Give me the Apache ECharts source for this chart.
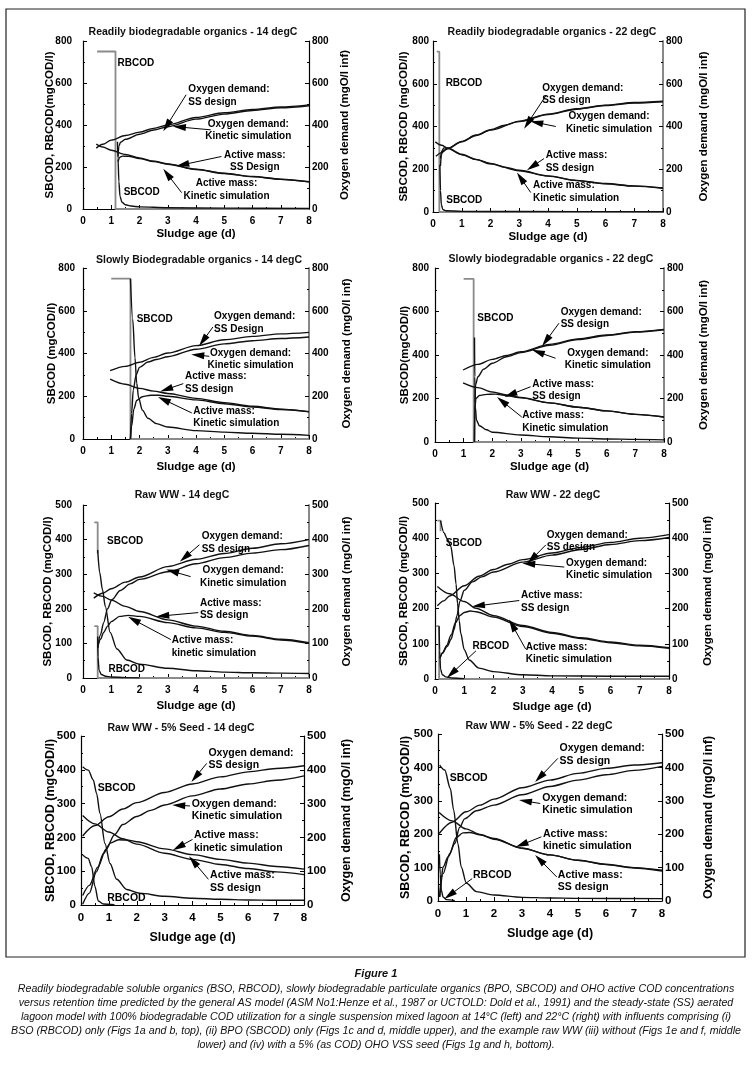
<!DOCTYPE html>
<html><head><meta charset="utf-8">
<script src="https://cdn.jsdelivr.net/npm/echarts@6/dist/echarts.min.js"></script>
<style>html,body{margin:0;padding:0;background:#fff}#c{width:752px;height:1069px}</style>
</head><body><div id="c"></div>
<script>
// ---------------- DATA ----------------
const xTicks = [0,1,2,3,4,5,6,7,8];
const titles = [
 'Readily biodegradable organics - 14 degC','Readily biodegradable organics - 22 degC',
 'Slowly Biodegradable organics - 14 degC','Slowly biodegradable organics - 22 degC',
 'Raw WW - 14 degC','Raw WW - 22 degC','Raw WW - 5% Seed - 14 degC','Raw WW - 5% Seed - 22 degC'];
const leftNames = ['SBCOD, RBCOD(mgCOD/l)','SBCOD, RBCOD (mgCOD/l)','SBCOD (mgCOD/l)','SBCOD(mgCOD/l)',
 'SBCOD, RBCOD (mgCOD/l)','SBCOD, RBCOD (mgCOD/l)','SBCOD, RBCOD (mgCOD/l)','SBCOD, RBCOD (mgCOD/l)'];
const rightName = 'Oxygen demand (mgO/l inf)';
const xName = 'Sludge age (d)';
const yMax = [800,800,800,800,500,500,500,500];
const yStep = [200,200,200,200,100,100,100,100];

// (a) readily biodegradable 14 degC
const a_o2SS  = [[0.47,290],[0.7,308],[1,328],[1.5,350],[2,366],[2.5,384],[3,400],[4,436],[5,458],[6,474],[7,486],[8,496]];
const a_o2Kin = [[1.24,250],[1.27,300],[1.33,318],[1.5,332],[2,356],[2.5,376],[3,392],[4,428],[5,452],[6,469],[7,482],[8,492]];
const a_amSS  = [[0.47,309],[0.7,295],[1,280],[1.5,260],[2,243],[2.5,228],[3,215],[4,190],[5,170],[6,155],[7,142],[8,130]];
const a_amKin = [[1.24,225],[1.3,246],[1.4,252],[1.6,251],[2,240],[2.5,226],[3,213],[4,188],[5,169],[6,154],[7,141],[8,129]];
const a_sub   = [[1.22,320],[1.24,240],[1.27,130],[1.31,60],[1.38,32],[1.5,20],[1.7,14],[2,10],[3,6],[5,4],[8,3]];
const a_grey  = [[0.5,750],[1.15,750],[1.15,0],[8,0]];
// (b) readily biodegradable 22 degC
const b_o2SS  = [[0.1,261],[0.3,278],[0.5,296],[1,330],[1.5,360],[2,385],[2.5,406],[3,425],[4,458],[5,483],[6,500],[7,512],[8,518]];
const b_o2Kin = [[0.26,215],[0.29,268],[0.35,288],[0.5,297],[1,329],[1.5,358],[2,383],[3,423],[4,456],[5,481],[6,498],[7,510],[8,516]];
const b_amSS  = [[0.08,328],[0.3,312],[0.5,300],[1,270],[1.5,246],[2,227],[2.5,210],[3,195],[4,169],[5,148],[6,133],[7,122],[8,112]];
const b_amKin = [[0.26,250],[0.3,285],[0.38,300],[0.5,298],[1,268],[1.5,245],[2,225],[3,193],[4,168],[5,147],[6,132],[7,121],[8,111]];
const b_sub   = [[0.24,220],[0.26,100],[0.29,35],[0.34,12],[0.45,6],[1,3],[3,2],[8,1]];
const b_grey  = [[0.13,750],[0.22,750],[0.22,0],[8,0]];
// (c) slowly biodegradable 14 degC
const c_o2SS  = [[0.96,320],[1.5,340],[2,359],[2.5,382],[3,402],[4,437],[5,464],[6,480],[7,492],[8,499]];
const c_o2Kin = [[1.68,0],[1.72,120],[1.78,230],[1.88,300],[2,335],[2.3,360],[2.6,372],[3,385],[4,420],[5,445],[6,460],[7,470],[8,477]];
const c_amSS  = [[0.96,280],[1.5,256],[2,237],[2.5,224],[3,213],[4,190],[5,170],[6,153],[7,140],[8,128]];
const c_amKin = [[1.68,0],[1.72,60],[1.8,140],[1.9,180],[2.1,198],[2.4,205],[2.7,205],[3,200],[4,183],[5,165],[6,150],[7,138],[8,127]];
const c_sub   = [[1.68,750],[1.76,560],[1.84,380],[1.9,262],[1.97,192],[2.1,135],[2.3,97],[2.6,72],[3,56],[4,39],[5,32],[6,27],[7,22],[8,17]];
const c_grey  = [[1,750],[1.68,750],[1.68,0],[8,0]];
// (d) slowly biodegradable 22 degC
const d_o2SS  = [[0.98,331],[1.5,357],[2,380],[2.5,398],[3,415],[4,449],[5,474],[6,492],[7,507],[8,518]];
const d_o2Kin = [[1.38,0],[1.39,180],[1.42,265],[1.5,300],[1.7,335],[2,362],[2.5,392],[3,411],[4,445],[5,471],[6,490],[7,505],[8,516]];
const d_amSS  = [[0.98,272],[1.5,250],[2,230],[2.5,216],[3,205],[4,180],[5,160],[6,143],[7,127],[8,115]];
const d_amKin = [[1.38,0],[1.39,150],[1.43,200],[1.55,214],[1.8,219],[2.1,220],[2.5,213],[3,203],[4,180],[5,160],[6,143],[7,127],[8,115]];
const d_sub   = [[1.38,480],[1.39,300],[1.41,160],[1.45,100],[1.55,75],[1.8,56],[2,45],[3,32],[4,24],[5,18],[6,14],[7,12],[8,10]];
const d_grey  = [[1,750],[1.35,750],[1.35,0],[8,0]];
// (e) raw WW 14 degC
const e_o2SS  = [[0.38,231],[0.7,245],[1,258],[1.5,277],[2,292],[3,322],[4,343],[5,360],[6,375],[7,388],[8,400]];
const e_o2Kin = [[0.52,88],[0.62,125],[0.73,160],[0.87,200],[1.02,226],[1.32,253],[1.67,272],[2,285],[3,307],[4,330],[5,348],[6,361],[7,371],[8,383]];
const e_amSS  = [[0.38,246],[0.7,236],[1,225],[1.5,207],[2,192],[3,168],[4,150],[5,135],[6,123],[7,112],[8,102]];
const e_amKin = [[0.52,88],[0.62,112],[0.73,132],[0.87,150],[1,163],[1.3,178],[1.6,181],[2,178],[3,160],[4,145],[5,132],[6,121],[7,110],[8,100]];
const e_sb    = [[0.52,370],[0.59,305],[0.69,255],[0.79,207],[0.96,132],[1.2,84],[1.55,52],[2,40],[3,28],[4,21],[5,17],[6,15],[7,14],[8,13]];
const e_rb    = [[0.52,120],[0.53,60],[0.57,22],[0.65,10],[0.8,5],[1,3],[1.5,1],[2,0.5]];
const e_sbGrey= [[0.4,450],[0.52,450],[0.52,360]];
const e_rbGrey= [[0.4,150],[0.52,150],[0.52,0],[8,0]];
// (f) raw WW 22 degC
const f_o2SS  = [[0.08,208],[0.3,222],[0.5,236],[1,265],[1.5,292],[2,311],[2.5,326],[3,339],[4,358],[5,374],[6,388],[7,400],[8,410]];
const f_o2Kin = [[0.17,59],[0.25,74],[0.42,93],[0.55,113],[0.65,140],[0.75,180],[0.85,220],[1,252],[1.28,276],[1.6,290],[2,304],[3,332],[4,352],[5,368],[6,382],[7,393],[8,402]];
const f_amSS  = [[0.08,263],[0.5,242],[1,220],[1.4,201],[2,180],[3,152],[4,132],[5,117],[6,105],[7,96],[8,89]];
const f_amKin = [[0.17,59],[0.25,72],[0.4,95],[0.55,125],[0.7,160],[0.85,180],[1,189],[1.2,193],[1.4,191],[2,176],[3,149],[4,130],[5,115],[6,103],[7,94],[8,87]];
const f_sb    = [[0.19,450],[0.31,415],[0.42,398],[0.54,377],[0.65,322],[0.72,270],[0.77,215],[0.83,165],[0.88,130],[1,83],[1.17,54],[1.5,31],[2,21],[3,12],[4,9],[6,8],[8,8]];
const f_rb    = [[0.14,150],[0.16,80],[0.19,28],[0.25,12],[0.37,6],[0.6,3],[1,1]];
const f_sbGrey= [[0.08,450],[0.19,450],[0.19,420]];
const f_rbGrey= [[0.03,150],[0.14,150],[0.14,0],[8,0]];
// (g) raw WW + 5% seed 14 degC
const g_o2SS  = [[0.06,204],[0.5,235],[1,261],[1.5,284],[2,303],[3,333],[4,358],[5,379],[6,394],[7,404],[8,412]];
const g_o2Kin = [[0.06,28],[0.3,58],[0.6,112],[0.9,165],[1.2,208],[1.5,238],[2,262],[2.5,280],[3,296],[4,323],[5,343],[6,358],[7,369],[8,382]];
const g_amSS  = [[0.06,265],[0.5,240],[1,216],[1.5,196],[2,180],[3,153],[4,135],[5,120],[6,108],[7,98],[8,90]];
const g_amKin = [[0.06,2],[0.3,35],[0.55,98],[0.8,152],[1.05,183],[1.35,193],[1.7,192],[2,187],[3,166],[4,149],[5,135],[6,124],[7,114],[8,106]];
const g_sb    = [[0.06,409],[0.26,399],[0.44,370],[0.56,330],[0.68,271],[0.86,182],[1.04,123],[1.28,76],[1.64,46],[2.1,35],[3,26],[4,20],[5,17],[6,15],[7,14],[8,14]];
const g_rb    = [[0.06,148],[0.26,138],[0.38,113],[0.5,55],[0.62,12],[0.8,3],[1.2,1]];
// (h) raw WW + 5% seed 22 degC
const h_o2SS  = [[0.04,202],[0.5,236],[1,267],[1.5,287],[2,305],[3,339],[4,362],[5,382],[6,397],[7,407],[8,414]];
const h_o2Kin = [[0.06,12],[0.12,70],[0.18,102],[0.36,132],[0.6,172],[0.77,220],[0.95,246],[1.37,270],[2,287],[3,318],[4,343],[5,362],[6,378],[7,391],[8,403]];
const h_amSS  = [[0.04,265],[0.5,240],[1,216],[1.5,199],[2,185],[3,158],[4,138],[5,122],[6,109],[7,99],[8,90]];
const h_amKin = [[0.06,12],[0.18,82],[0.42,142],[0.65,190],[0.89,204],[1.13,205],[1.5,198],[2,187],[3,158],[4,138],[5,122],[6,110],[7,100],[8,92]];
const h_sb    = [[0.06,407],[0.24,392],[0.44,337],[0.56,272],[0.71,172],[0.83,102],[1.01,54],[1.37,28],[2,18],[3,11],[4,9],[5,8],[8,7]];
const h_rb    = [[0.05,140],[0.08,80],[0.12,32],[0.18,12],[0.3,4],[0.6,1]];

const captionTitle = 'Figure 1';
const captionLines = [
 'Readily biodegradable soluble organics (BSO, RBCOD), slowly biodegradable particulate organics (BPO, SBCOD) and OHO active COD concentrations',
 'versus retention time predicted by the general AS model (ASM No1:Henze et al., 1987 or UCTOLD: Dold et al., 1991) and the steady-state (SS) aerated',
 'lagoon model with 100% biodegradable COD utilization for a single suspension mixed lagoon at 14°C (left) and 22°C (right) with influents comprising (i)',
 'BSO (RBCOD) only (Figs 1a and b, top), (ii) BPO (SBCOD) only (Figs 1c and d, middle upper), and the example raw WW (iii) without (Figs 1e and f, middle',
 'lower) and (iv) with a 5% (as COD) OHO VSS seed (Figs 1g and h, bottom).'];

// annotation texts, anchors and arrows (data coordinates)
const notes = [
 [ {t:'RBCOD',p:[1.22,694],al:'left'},
   {t:'Oxygen demand:\nSS design',p:[3.73,540],al:'left',ar:[[3.65,544],[2.85,372]]},
   {t:'Oxygen demand:\nKinetic simulation',p:[5.85,374],al:'center',ar:[[4.52,377],[3.2,393]]},
   {t:'Active mass:\nSS Design',p:[6.08,227],al:'center',ar:[[4.9,250],[3.32,205]]},
   {t:'Active mass:\nKinetic simulation',p:[5.08,92],al:'center',ar:[[3.49,78],[2.85,190]]},
   {t:'SBCOD',p:[1.44,79],al:'left'} ],
 [ {t:'RBCOD',p:[0.44,602],al:'left'},
   {t:'Oxygen demand:\nSS design',p:[3.8,550],al:'left',ar:[[3.94,547],[3.18,392]]},
   {t:'Oxygen demand:\nKinetic simulation',p:[6.12,417],al:'center',ar:[[4.27,400],[3.4,424]]},
   {t:'Active mass:\nSS design',p:[3.92,234],al:'left',ar:[[3.86,250],[3.28,197]]},
   {t:'Active mass:\nKinetic simulation',p:[3.48,94],al:'left',ar:[[3.4,91],[2.93,183]]},
   {t:'SBCOD',p:[0.46,55],al:'left'} ],
 [ {t:'SBCOD',p:[1.9,562],al:'left'},
   {t:'Oxygen demand:\nSS Design',p:[4.64,543],al:'left',ar:[[4.6,524],[4.12,437]]},
   {t:'Oxygen demand:\nKinetic simulation',p:[5.93,374],al:'center',ar:[[4.47,387],[3.85,395]]},
   {t:'Active mass:\nSS design',p:[3.61,262],al:'left',ar:[[3.55,259],[2.75,223]]},
   {t:'Active mass:\nKinetic simulation',p:[3.9,101],al:'left',ar:[[3.85,122],[2.67,196]]} ],
 [ {t:'SBCOD',p:[1.48,569],al:'left'},
   {t:'Oxygen demand:\nSS design',p:[4.39,569],al:'left',ar:[[4.33,546],[3.75,442]]},
   {t:'Oxygen demand:\nKinetic simulation',p:[6.04,381],al:'center',ar:[[4.21,385],[3.4,423]]},
   {t:'Active mass:\nSS design',p:[3.4,238],al:'left',ar:[[3.34,254],[2.44,208]]},
   {t:'Active mass:\nKinetic simulation',p:[3.05,92],al:'left',ar:[[3.03,115],[2.18,205]]} ],
 [ {t:'SBCOD',p:[0.85,394],al:'left'},
   {t:'Oxygen demand:\nSS design',p:[4.2,391],al:'left',ar:[[4.12,385],[3.44,337]]},
   {t:'Oxygen demand:\nKinetic simulation',p:[5.67,293],al:'center',ar:[[3.81,293],[2.96,313]]},
   {t:'Active mass:\nSS design',p:[4.14,199],al:'left',ar:[[4.08,189],[2.61,178]]},
   {t:'Active mass:\nkinetic simulation',p:[3.14,91],al:'left',ar:[[3.11,111],[1.61,176]]},
   {t:'RBCOD',p:[0.9,24],al:'left'} ],
 [ {t:'SBCOD',p:[0.37,386],al:'left'},
   {t:'Oxygen demand:\nSS design',p:[3.82,391],al:'left',ar:[[3.79,381],[3.17,329]]},
   {t:'Oxygen demand:\nKinetic simulation',p:[4.48,312],al:'left',ar:[[4.42,318],[3.0,329]]},
   {t:'Active mass:\nSS design',p:[2.94,220],al:'left',ar:[[2.88,223],[1.28,206]]},
   {t:'Active mass:\nKinetic simulation',p:[3.1,73],al:'left',ar:[[3.1,85],[2.54,168]]},
   {t:'RBCOD',p:[1.28,94],al:'left',ar:[[1.4,80],[0.42,4]]} ],
 [ {t:'SBCOD',p:[0.6,347],al:'left'},
   {t:'Oxygen demand:\nSS design',p:[4.57,431],al:'left',ar:[[4.51,419],[3.97,365]]},
   {t:'Oxygen demand:\nKinetic simulation',p:[3.97,281],al:'left',ar:[[3.91,293],[3.29,296]]},
   {t:'Active mass:\nkinetic simulation',p:[4.05,187],al:'left',ar:[[4.0,194],[3.31,163]]},
   {t:'Active mass:\nSS design',p:[4.63,69],al:'left',ar:[[4.57,76],[3.89,143]]},
   {t:'RBCOD',p:[0.94,20],al:'left'} ],
 [ {t:'SBCOD',p:[0.42,367],al:'left'},
   {t:'Oxygen demand:\nSS design',p:[4.34,439],al:'left',ar:[[4.28,427],[3.48,357]]},
   {t:'Oxygen demand:\nKinetic simulation',p:[3.72,290],al:'left',ar:[[3.65,292],[2.91,302]]},
   {t:'Active mass:\nkinetic simulation',p:[3.75,182],al:'left',ar:[[3.69,192],[2.79,162]]},
   {t:'Active mass:\nSS design',p:[4.28,60],al:'left',ar:[[4.24,72],[3.48,137]]},
   {t:'RBCOD',p:[1.25,77],al:'left',ar:[[1.22,67],[0.24,7]]} ]
];

// curve groups per panel: [data, grey?]
const panels = [
 [[a_grey,1],[a_o2SS],[a_o2Kin],[a_amSS],[a_amKin],[a_sub]],
 [[b_grey,1],[b_o2SS],[b_o2Kin],[b_amSS],[b_amKin],[b_sub]],
 [[c_grey,1],[c_o2SS],[c_o2Kin],[c_amSS],[c_amKin],[c_sub]],
 [[d_grey,1],[d_o2SS],[d_o2Kin],[d_amSS],[d_amKin],[d_sub]],
 [[e_sbGrey,1],[e_rbGrey,1],[e_o2SS],[e_o2Kin],[e_amSS],[e_amKin],[e_sb],[e_rb]],
 [[f_sbGrey,1],[f_rbGrey,1],[f_o2SS],[f_o2Kin],[f_amSS],[f_amKin],[f_sb],[f_rb]],
 [[g_o2SS],[g_o2Kin],[g_amSS],[g_amKin],[g_sb],[g_rb]],
 [[h_o2SS],[h_o2Kin],[h_amSS],[h_amKin],[h_sb],[h_rb]]
];

// ---------------- LAYOUT ----------------
const layout = [
 {l:83, t:41, w:226,h:168, tx:193,ty:32, lg:27,lm:11,rg:30,xg:19, big:0, rc:'#000'},
 {l:433,t:41, w:230,h:171, tx:552,ty:32, lg:23,lm:4, rg:35,xg:19, big:0, rc:'#888'},
 {l:83, t:268,w:226,h:171, tx:199,ty:260,lg:25,lm:8, rg:32,xg:22, big:0, rc:'#888'},
 {l:435,t:268,w:229,h:174, tx:551,ty:259,lg:24,lm:6, rg:34,xg:19, big:0, rc:'#888'},
 {l:83, t:505,w:226,h:173, tx:182,ty:495,lg:29,lm:11,rg:32,xg:22, big:0, rc:'#888'},
 {l:435,t:503,w:234,h:176, tx:553,ty:495,lg:25,lm:6, rg:33,xg:22, big:0, rc:'#000'},
 {l:81, t:736,w:223,h:169, tx:181,ty:728,lg:24,lm:5, rg:36,xg:26, big:1, rc:'#000'},
 {l:438,t:734,w:224,h:167, tx:539,ty:726,lg:26,lm:5, rg:40,xg:26, big:1, rc:'#000'}
];
const FONT = '"Liberation Sans", Arial, Helvetica, sans-serif';

const grid=[], xAxis=[], yAxis=[], series=[], graphic=[];
panels.forEach((lines,i)=>{
  const L = layout[i];
  const tick = L.big ? 11.5 : 10, nm = L.big ? 12.5 : 11.5, an = L.big ? 10.5 : 10;
  grid.push({left:L.l, top:L.t, width:L.w, height:L.h});
  xAxis.push({gridIndex:i, type:'value', min:0, max:8, interval:1,
    axisLine:{onZero:false, lineStyle:{color:'#000', width:1.2}},
    axisTick:{inside:true, length:4, lineStyle:{color:'#000'}},
    minorTick:{show:true, splitNumber:2, length:2, lineStyle:{color:'#000'}},
    splitLine:{show:false},
    axisLabel:{color:'#000', fontFamily:FONT, fontWeight:'bold', fontSize:tick, margin:7,
      formatter:v=> xTicks.includes(v) ? String(v) : ''},
    name:xName, nameLocation:'middle', nameGap:L.xg, nameMoveOverlap:false,
    nameTextStyle:{color:'#000', fontFamily:FONT, fontWeight:'bold', fontSize:nm}});
  const yBase = {gridIndex:i, type:'value', min:0, max:yMax[i], interval:yStep[i],
    splitLine:{show:false},
    axisTick:{show:true, inside:true, length:4, lineStyle:{color:'#000'}},
    minorTick:{show:true, splitNumber:2, length:2, lineStyle:{color:'#000'}},
    nameLocation:'middle', nameRotate:90, nameMoveOverlap:false,
    nameTextStyle:{color:'#000', fontFamily:FONT, fontWeight:'bold', fontSize:nm}};
  yAxis.push(Object.assign({}, yBase, {position:'left', name:leftNames[i], nameGap:L.lg,
    axisLine:{show:true, lineStyle:{color:'#000', width:1.2}},
    axisLabel:{color:'#000', fontFamily:FONT, fontWeight:'bold', fontSize:tick, margin:L.lm}}));
  yAxis.push(Object.assign({}, yBase, {position:'right', name:rightName, nameGap:L.rg,
    axisLine:{show:true, lineStyle:{color:L.rc, width:L.rc==='#000'?1.2:2}},
    axisLabel:{color:'#000', fontFamily:FONT, fontWeight:'bold', fontSize:tick, margin:3}}));
  lines.forEach(([d,grey])=>{
    series.push({type:'line', xAxisIndex:i, yAxisIndex:2*i, data:d, showSymbol:false, symbol:'none',
      smooth: grey ? false : 0.3, smoothMonotone:'x', silent:true, z: grey?1:3,
      lineStyle:{color: grey ? '#8a8a8a' : '#111', width: grey ? 1.8 : 1.4}});
  });
  // annotations
  const sx = L.w/8, sy = L.h/yMax[i];
  const arrows = notes[i].filter(n=>n.ar).map(n=>{
    const [s,e] = n.ar;
    const dxp=(s[0]-e[0])*sx, dyp=(s[1]-e[1])*sy, len=Math.hypot(dxp,dyp)||1;
    const k = 6/len;
    const e2 = [e[0]+(s[0]-e[0])*k, e[1]+(s[1]-e[1])*k];
    return [{coord:s},{coord:e2}];
  });
  series.push({type:'scatter', xAxisIndex:i, yAxisIndex:2*i, symbolSize:0, silent:true, z:5,
    itemStyle:{opacity:1},
    data: notes[i].map(n=>({value:n.p, label:{show:true, formatter:n.t, position:[0,0], align:n.al,
      verticalAlign:'middle', color:'#000', opacity:1, fontFamily:FONT, fontWeight:'bold', fontSize:an, lineHeight:12.5}})),
    markLine:{silent:true, symbol:['none','triangle'], symbolSize:[7,13], animation:false,
      label:{show:false}, lineStyle:{color:'#000', width:1, type:'solid', opacity:1},
      itemStyle:{color:'#000', opacity:1},
      emphasis:{disabled:true}, data:arrows}});
  graphic.push({type:'text', x:L.tx, y:L.ty, silent:true,
    style:{text:titles[i], fontFamily:FONT, fontSize:10.5, fontWeight:'bold', fill:'#111',
      textAlign:'center', textVerticalAlign:'middle'}});
});

graphic.push({type:'rect', shape:{x:6, y:9, width:739, height:948}, silent:true,
  style:{fill:'none', stroke:'#222', lineWidth:1.2}, z:-1});
graphic.push({type:'text', x:376, y:974, silent:true,
  style:{text:captionTitle, fontFamily:FONT, fontSize:11, fontWeight:'bold', fontStyle:'italic', fill:'#111',
    textAlign:'center', textVerticalAlign:'middle'}});
const capY = [988.5,1002.5,1016.5,1030.5,1044.5];
captionLines.forEach((t,k)=>{
  graphic.push({type:'text', x:376, y:capY[k], scaleX:0.985, silent:true,
    style:{text:t, fontFamily:FONT, fontSize:10.8, fontStyle:'italic', fill:'#111',
      textAlign:'center', textVerticalAlign:'middle'}});
});

const chart = echarts.init(document.getElementById('c'), null, {renderer:'canvas'});
chart.setOption({animation:false, backgroundColor:'#fff', grid, xAxis, yAxis, series, graphic});
</script></body></html>
